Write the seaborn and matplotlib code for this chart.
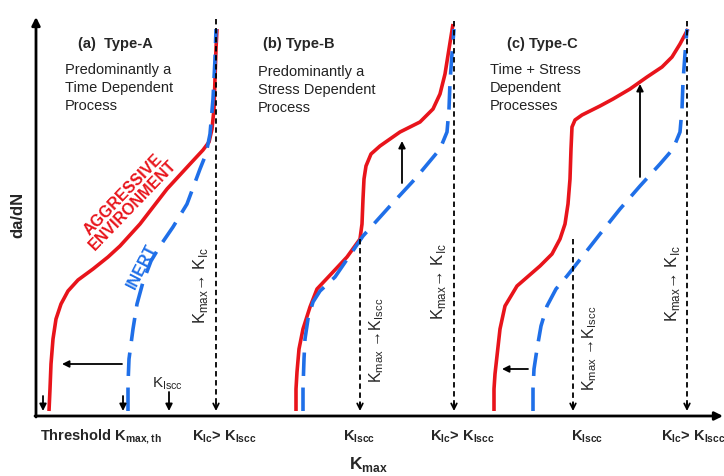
import matplotlib
matplotlib.use("Agg")
import matplotlib.pyplot as plt
import seaborn as sns
import pandas as pd

# ================= DATA (schematic, pixel frame) =================
# panel (a) Type-A
a_red_x = [49, 50, 51, 53, 56, 61, 68, 78, 93, 108, 120, 140, 167, 190, 203, 209, 212, 214, 215, 216, 217]
a_red_y = [412, 390, 365, 340, 320, 305, 292, 281, 270, 258, 247, 225, 190, 165, 151, 143, 130, 110, 80, 50, 30]
a_blue_x = [128, 128, 129, 131, 133, 137, 143, 151, 160, 173, 187, 200, 206, 210, 213, 215, 216]
a_blue_y = [412, 385, 360, 345, 330, 305, 283, 262, 247, 228, 205, 170, 155, 135, 100, 60, 30]

# panel (b) Type-B
b_red_x = [296, 296, 297, 299, 303, 310, 317, 333, 347, 360, 362, 363, 364, 366, 371, 380, 400, 420, 433, 440, 445, 449, 453]
b_red_y = [412, 390, 373, 350, 330, 308, 290, 273, 258, 240, 225, 200, 180, 167, 155, 147, 133, 123, 110, 95, 75, 50, 25]
b_blue_x = [303, 303, 304, 305, 308, 313, 320, 335, 363, 390, 415, 440, 447, 449, 450, 452, 454]
b_blue_y = [412, 390, 360, 340, 320, 303, 292, 278, 237, 207, 180, 150, 133, 110, 83, 55, 30]

# panel (c) Type-C
c_red_x = [494, 494, 495, 497, 500, 505, 517, 540, 552, 560, 565, 568, 570, 571, 572, 575, 582, 600, 613, 630, 647, 662, 672, 680, 688]
c_red_y = [412, 390, 375, 357, 330, 307, 287, 267, 255, 240, 225, 205, 180, 150, 128, 121, 116, 107, 100, 90, 78, 68, 58, 45, 30]
c_blue_x = [533, 533, 534, 537, 541, 547, 556, 567, 582, 600, 620, 640, 660, 673, 680, 682, 683, 685, 687]
c_blue_y = [412, 390, 370, 350, 327, 307, 290, 277, 258, 235, 210, 187, 165, 150, 133, 110, 83, 55, 30]

# vertical dashed guides: x, top, bottom
guide_x = [216, 360, 454, 573, 687]
guide_top = [20, 240, 22, 240, 22]
guide_bot = [412, 412, 412, 412, 412]

# ================= FIGURE =================
sns.set_style("white")
plt.rcParams["font.family"] = ["Liberation Sans", "DejaVu Sans"]
plt.rcParams["mathtext.fontset"] = "custom"
plt.rcParams["mathtext.rm"] = "Liberation Sans"
plt.rcParams["mathtext.bf"] = "Liberation Sans:bold"

fig = plt.figure(figsize=(7.24, 4.77), dpi=100)
ax = fig.add_axes([0, 0, 1, 1])
ax.set_xlim(0, 724)
ax.set_ylim(477, 0)
ax.axis("off")

RED = "#e8141b"
BLUE = "#1f6fe8"

def curve(xs, ys, color, dashed=False):
    df = pd.DataFrame({"x": xs, "y": ys})
    sns.lineplot(data=df, x="x", y="y", sort=False, estimator=None, color=color,
                 lw=2.6, ax=ax, legend=False)
    ln = ax.lines[-1]
    ln.set_solid_capstyle("butt")
    if dashed:
        ln.set_dashes([6.5, 3.2])
        ln.set_dash_capstyle("butt")

curve(a_red_x, a_red_y, RED)
curve(a_blue_x, a_blue_y, BLUE, dashed=True)
curve(b_red_x, b_red_y, RED)
curve(b_blue_x, b_blue_y, BLUE, dashed=True)
curve(c_red_x, c_red_y, RED)
curve(c_blue_x, c_blue_y, BLUE, dashed=True)

# dashed guides with open arrow heads
for gx, gt, gb in zip(guide_x, guide_top, guide_bot):
    gdf = pd.DataFrame({"x": [gx, gx], "y": [gt, gb - 4]})
    sns.lineplot(data=gdf, x="x", y="y", sort=False, estimator=None, color="black",
                 lw=1.3, ax=ax, legend=False)
    ax.lines[-1].set_dashes([3, 2])
    ax.annotate("", xy=(gx, gb), xytext=(gx, gb - 8),
                arrowprops=dict(arrowstyle="->", lw=1.3, color="black",
                                shrinkA=0, shrinkB=0, mutation_scale=10))

# main axes with arrows
ax.annotate("", xy=(36, 18), xytext=(36, 418),
            arrowprops=dict(arrowstyle="-|>", lw=2, color="black", shrinkA=0, shrinkB=0,
                            mutation_scale=12))
ax.annotate("", xy=(723, 417), xytext=(35, 417),
            arrowprops=dict(arrowstyle="-|>", lw=2, color="black", shrinkA=0, shrinkB=0,
                            mutation_scale=12))

# shift arrows
def arrow(x0, y0, x1, y1):
    ax.annotate("", xy=(x1, y1), xytext=(x0, y0),
                arrowprops=dict(arrowstyle="-|>", lw=1.3, color="black", shrinkA=0, shrinkB=0,
                                mutation_scale=10))

arrow(122, 365, 62, 365)
arrow(402, 184, 402, 142)
arrow(640, 178, 640, 85)
arrow(528, 370, 502, 370)
arrow(43, 397, 43, 412)
arrow(123, 397, 123, 412)
arrow(169, 393, 169, 412)

# panel texts
ax.text(78, 44, "(a)  Type-A", fontsize=10.5, fontweight="bold", va="center")
ax.text(65, 63, "Predominantly a\nTime Dependent\nProcess", fontsize=10.5, va="top",
        linespacing=1.35, color="#222222")
ax.text(263, 44, "(b) Type-B", fontsize=10.5, fontweight="bold", va="center")
ax.text(258, 65, "Predominantly a\nStress Dependent\nProcess", fontsize=10.5, va="top",
        linespacing=1.35, color="#222222")
ax.text(507, 44, "(c) Type-C", fontsize=10.5, fontweight="bold", va="center")
ax.text(490, 63, "Time + Stress\nDependent\nProcesses", fontsize=10.5, va="top",
        linespacing=1.35, color="#222222")

ax.text(128, 200, "AGGRESSIVE\nENVIRONMENT", fontsize=11.5, fontweight="bold", color=RED,
        rotation=46, ha="center", va="center", rotation_mode="anchor", linespacing=0.95)
ax.text(142, 267, "INERT", fontsize=11.5, fontweight="bold", color=BLUE,
        rotation=63, ha="center", va="center", rotation_mode="anchor")

# rotated guide labels
kic = r"K$_{\rm max}$→ K$_{\rm Ic}$"
kiscc = r"K$_{\rm max}$ →K$_{\rm Iscc}$"
ax.text(201, 285, kic, fontsize=12, rotation=90, ha="center", va="center")
ax.text(439, 281, kic, fontsize=12, rotation=90, ha="center", va="center")
ax.text(672, 283, kic, fontsize=12, rotation=90, ha="center", va="center")
ax.text(377, 340, kiscc, fontsize=11.5, rotation=90, ha="center", va="center")
ax.text(590, 348, kiscc, fontsize=11.5, rotation=90, ha="center", va="center")

ax.text(168, 384, r"K$_{\rm Iscc}$", fontsize=11, ha="center", va="center")

# bottom labels
ax.text(40, 437, r"Threshold K$_{\mathbf{max,th}}$", fontsize=10.5, fontweight="bold", va="center")
ax.text(192, 437, r"K$_{\mathbf{Ic}}$> K$_{\mathbf{Iscc}}$", fontsize=10.5, fontweight="bold", va="center")
ax.text(359, 437, r"K$_{\mathbf{Iscc}}$", fontsize=10.5, fontweight="bold", va="center", ha="center")
ax.text(430, 437, r"K$_{\mathbf{Ic}}$> K$_{\mathbf{Iscc}}$", fontsize=10.5, fontweight="bold", va="center")
ax.text(587, 437, r"K$_{\mathbf{Iscc}}$", fontsize=10.5, fontweight="bold", va="center", ha="center")
ax.text(661, 437, r"K$_{\mathbf{Ic}}$> K$_{\mathbf{Iscc}}$", fontsize=10.5, fontweight="bold", va="center")

ax.text(368, 465, r"K$_{\mathbf{max}}$", fontsize=12.5, fontweight="bold", ha="center", va="center")
ax.text(18, 215, "da/dN", fontsize=12, fontweight="bold", rotation=90, ha="center", va="center")

fig.savefig("out.png", dpi=100)
